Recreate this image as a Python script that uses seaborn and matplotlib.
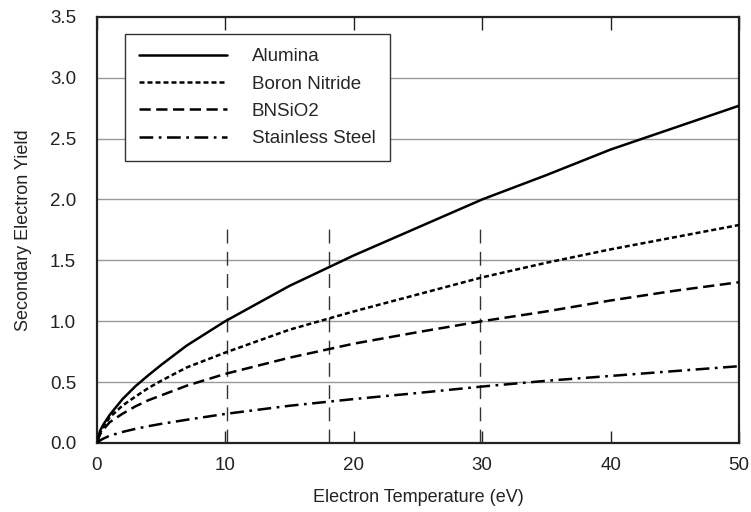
import matplotlib
matplotlib.use("Agg")
import matplotlib.pyplot as plt
import seaborn as sns
import pandas as pd

temps = [0, 0.25, 0.5, 1, 2, 3, 4, 5, 7, 10, 15, 20, 25, 30, 35, 40, 45, 50]
alumina = [0, 0.10, 0.15, 0.23, 0.36, 0.465, 0.555, 0.64, 0.80, 1.0, 1.29, 1.54, 1.77, 2.0, 2.2, 2.41, 2.59, 2.77]
boron_nitride = [0, 0.08, 0.13, 0.21, 0.307, 0.38, 0.45, 0.51, 0.62, 0.742, 0.93, 1.08, 1.22, 1.36, 1.48, 1.59, 1.69, 1.79]
bnsio2 = [0, 0.07, 0.11, 0.17, 0.24, 0.30, 0.35, 0.39, 0.47, 0.567, 0.70, 0.815, 0.91, 1.0, 1.08, 1.17, 1.25, 1.32]
stainless = [0, 0.02, 0.035, 0.059, 0.09, 0.115, 0.137, 0.156, 0.19, 0.238, 0.305, 0.36, 0.41, 0.463, 0.51, 0.55, 0.59, 0.63]
materials = ["Alumina", "Boron Nitride", "BNSiO2", "Stainless Steel"]
vlines_x = [10.1, 18.1, 29.8]
vline_top = 1.78

rows = []
for name, vals in zip(materials, [alumina, boron_nitride, bnsio2, stainless]):
    for t, v in zip(temps, vals):
        rows.append({"Electron Temperature (eV)": t, "Secondary Electron Yield": v, "Material": name})
df = pd.DataFrame(rows)

sns.set_style("white")
plt.rcParams["font.family"] = ["Liberation Sans", "DejaVu Sans"]

fig = plt.figure(figsize=(7.51, 5.12), dpi=100)
ax = fig.add_axes([0.129, 0.135, 0.855, 0.832])

for y in [0.5, 1.0, 1.5, 2.0, 2.5, 3.0]:
    ax.axhline(y, color="#999999", lw=1.0, zorder=0)

for xv in vlines_x:
    ax.plot([xv, xv], [0, vline_top], color="#333333", lw=1.0, dashes=(10, 6), zorder=1)

dashes = {"Alumina": "", "Boron Nitride": (2, 1.2), "BNSiO2": (4.5, 2.2), "Stainless Steel": (5.5, 2.2, 1.1, 2.2)}
sns.lineplot(data=df, x="Electron Temperature (eV)", y="Secondary Electron Yield",
             style="Material", style_order=materials, dashes=dashes,
             color="black", lw=1.8, ax=ax, zorder=3)

ax.set_xlim(0, 50)
ax.set_ylim(0, 3.5)
ax.set_xticks([0, 10, 20, 30, 40, 50])
ax.set_yticks([0, 0.5, 1.0, 1.5, 2.0, 2.5, 3.0, 3.5])
ax.set_yticklabels([f"{v:.1f}" for v in [0, 0.5, 1.0, 1.5, 2.0, 2.5, 3.0, 3.5]])
ax.tick_params(axis="x", direction="in", length=9, width=1, top=True, bottom=True, labelsize=13.5, pad=10, colors="#222222")
ax.tick_params(axis="y", length=0, labelsize=13.5, pad=15, colors="#222222")
for s in ax.spines.values():
    s.set_color("#222222")
    s.set_linewidth(1.6)
ax.set_xlabel("Electron Temperature (eV)", fontsize=13, color="#222222", labelpad=11)
ax.set_ylabel("Secondary Electron Yield", fontsize=13, color="#222222", labelpad=13)

leg = ax.legend(loc="upper left", bbox_to_anchor=(0.044, 0.96), fontsize=13.5, handlelength=4.7,
                handletextpad=1.3, borderpad=0.75, labelspacing=0.55, fancybox=False,
                frameon=True, borderaxespad=0, title=None)
leg.get_frame().set_edgecolor("#333333")
leg.get_frame().set_linewidth(1.0)
leg.get_frame().set_facecolor("white")
leg.get_frame().set_alpha(1)
leg.set_zorder(5)

fig.savefig("out.png", dpi=100)
